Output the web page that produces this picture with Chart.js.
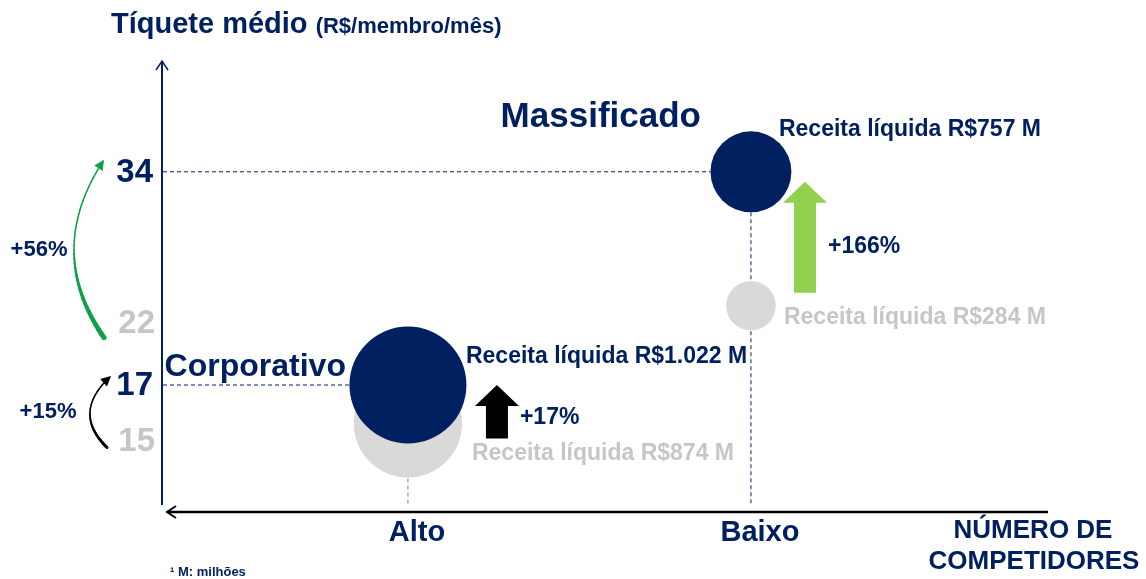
<!DOCTYPE html>
<html>
<head>
<meta charset="utf-8">
<script src="https://cdn.jsdelivr.net/npm/chart.js@4.4.1/dist/chart.umd.min.js"></script>
<style>
  body { margin: 0; background: #fff; }
  #wrap { width: 1146px; height: 579px; }
</style>
</head>
<body>
<div id="wrap"><canvas id="bubbleChart" width="1146" height="579"></canvas></div>
<script>
// data
const segments = ['Corporativo', 'Massificado'];
const competitors = ['Alto', 'Baixo'];
const ticketBefore = [15, 22];
const ticketAfter = [17, 34];
const revenueBefore = [874, 284];
const revenueAfter = [1022, 757];
const revenueBeforeLabel = ['Receita líquida R$874 M', 'Receita líquida R$284 M'];
const revenueAfterLabel = ['Receita líquida R$1.022 M', 'Receita líquida R$757 M'];
const ticketGrowth = ['+15%', '+56%'];
const revenueGrowth = ['+17%', '+166%'];

const NAVY = '#002060';
const GRAY_BUBBLE = '#d9d9d9';
const GRAY_TEXT = '#c6c6c6';
const FONT = '"Liberation Sans", Arial, sans-serif';
// bubble area scale per segment (slide isn't proportional between segments)
const bubbleScale = [1.83, 1.47];

function bubbles(tickets, revenues) {
  return segments.map((s, i) => ({ x: i + 1, y: tickets[i], r: bubbleScale[i] * Math.sqrt(revenues[i]) }));
}

function text(ctx, str, x, y, size, color, align) {
  ctx.font = `bold ${size}px ${FONT}`;
  ctx.fillStyle = color;
  ctx.textAlign = align || 'left';
  ctx.textBaseline = 'middle';
  ctx.fillText(str, x, y);
}

function blockArrow(ctx, cx, top, bottom, color) {
  const headW = 22, headH = 21, shaftW = 11;
  ctx.beginPath();
  ctx.moveTo(cx, top);
  ctx.lineTo(cx + headW, top + headH);
  ctx.lineTo(cx + shaftW, top + headH);
  ctx.lineTo(cx + shaftW, bottom);
  ctx.lineTo(cx - shaftW, bottom);
  ctx.lineTo(cx - shaftW, top + headH);
  ctx.lineTo(cx - headW, top + headH);
  ctx.closePath();
  ctx.fillStyle = color;
  ctx.fill();
}

function curvedArrow(ctx, x0, y0, cx, cy, x1, y1, color, wTail, wMid) {
  const pt = t => [
    (1 - t) * (1 - t) * x0 + 2 * (1 - t) * t * cx + t * t * x1,
    (1 - t) * (1 - t) * y0 + 2 * (1 - t) * t * cy + t * t * y1
  ];
  ctx.strokeStyle = color;
  ctx.lineCap = 'round';
  const n = 40;
  for (let k = 0; k < n - 2; k++) {
    const a = pt(k / n), b = pt((k + 1) / n);
    const t = k / n;
    ctx.lineWidth = wTail + (wMid - wTail) * Math.min(1, t * 2);
    ctx.beginPath();
    ctx.moveTo(a[0], a[1]);
    ctx.lineTo(b[0], b[1]);
    ctx.stroke();
  }
  // head
  const ang = Math.atan2(y1 - cy, x1 - cx);
  const len = 10, half = 5;
  const bx = x1 - len * Math.cos(ang), by = y1 - len * Math.sin(ang);
  ctx.beginPath();
  ctx.moveTo(x1, y1);
  ctx.lineTo(bx + half * Math.sin(ang), by - half * Math.cos(ang));
  ctx.lineTo(bx - half * Math.sin(ang), by + half * Math.cos(ang));
  ctx.closePath();
  ctx.fillStyle = color;
  ctx.fill();
}

const decorations = {
  id: 'decorations',
  beforeDatasetsDraw(chart) {
    const ctx = chart.ctx;
    const xs = chart.scales.x, ys = chart.scales.y;
    const area = chart.chartArea;
    const px = v => xs.getPixelForValue(v);
    const py = v => ys.getPixelForValue(v);
    ctx.save();

    // y axis with open arrow on top
    ctx.strokeStyle = NAVY;
    ctx.lineWidth = 2;
    ctx.beginPath();
    ctx.moveTo(area.left, area.bottom - 7);
    ctx.lineTo(area.left, area.top + 1);
    ctx.stroke();
    ctx.lineWidth = 1.5;
    ctx.beginPath();
    ctx.moveTo(area.left - 6, area.top + 10);
    ctx.lineTo(area.left, area.top + 1);
    ctx.lineTo(area.left + 6, area.top + 10);
    ctx.stroke();

    // x axis with open arrow pointing left
    ctx.strokeStyle = '#000';
    ctx.lineWidth = 2.5;
    ctx.beginPath();
    ctx.moveTo(area.right, area.bottom);
    ctx.lineTo(area.left + 5, area.bottom);
    ctx.stroke();
    ctx.lineWidth = 2;
    ctx.beginPath();
    ctx.moveTo(area.left + 14, area.bottom - 6);
    ctx.lineTo(area.left + 5, area.bottom);
    ctx.lineTo(area.left + 14, area.bottom + 6);
    ctx.stroke();

    // dashed guides
    ctx.setLineDash([4, 3]);
    ctx.lineWidth = 1;
    segments.forEach((s, i) => {
      const x = px(i + 1);
      const rA = bubbleScale[i] * Math.sqrt(revenueAfter[i]);
      ctx.strokeStyle = NAVY;
      ctx.beginPath();
      ctx.moveTo(area.left + 1, py(ticketAfter[i]));
      ctx.lineTo(x - rA, py(ticketAfter[i]));
      ctx.stroke();
      ctx.strokeStyle = i === 0 ? '#7083ad' : NAVY;
      ctx.beginPath();
      ctx.moveTo(x, py(ticketAfter[i]) + rA);
      ctx.lineTo(x, area.bottom - 6);
      ctx.stroke();
    });
    ctx.restore();
  },
  afterDatasetsDraw(chart) {
    const ctx = chart.ctx;
    const xs = chart.scales.x, ys = chart.scales.y;
    const area = chart.chartArea;
    const px = v => xs.getPixelForValue(v);
    const py = v => ys.getPixelForValue(v);
    ctx.save();

    // title
    ctx.font = `bold 29px ${FONT}`;
    ctx.fillStyle = NAVY;
    ctx.textAlign = 'left';
    ctx.textBaseline = 'alphabetic';
    ctx.fillText('Tíquete médio', 111, 33);
    const w = ctx.measureText('Tíquete médio ').width;
    ctx.font = `bold 22px ${FONT}`;
    ctx.fillText('(R$/membro/mês)', 111 + w, 33);

    // y tick labels: current value beside its guide, previous value under its bubble
    ctx.font = `bold 33px ${FONT}`;
    ctx.textAlign = 'right';
    segments.forEach((s, i) => {
      ctx.fillStyle = GRAY_TEXT;
      ctx.fillText(String(ticketBefore[i]), area.left - 7, py(ticketBefore[i]) + 27);
      ctx.fillStyle = NAVY;
      ctx.fillText(String(ticketAfter[i]), area.left - 9, py(ticketAfter[i]) + 10);
    });

    // x tick labels
    competitors.forEach((c, i) => text(ctx, c, px(i + 1) + 9, area.bottom + 21, 29, NAVY, 'center'));
    text(ctx, 'NÚMERO DE', 1033, 531, 26, NAVY, 'center');
    text(ctx, 'COMPETIDORES', 1034, 562, 26, NAVY, 'center');
    text(ctx, '¹ M: milhões', 170, 572, 13, NAVY, 'left');

    // ticket growth curved arrows
    const midM = (py(22) + py(34)) / 2, midC = (py(15) + py(17)) / 2;
    curvedArrow(ctx, 104, py(22) + 32, 44, midM + 12, 104, py(34) - 12, '#0ea04b', 5, 1.5);
    text(ctx, ticketGrowth[1], 39, midM + 11, 22, NAVY, 'center');
    curvedArrow(ctx, 107, py(15) + 24, 71, midC + 8, 111, py(17) - 9, '#000', 3, 1.5);
    text(ctx, ticketGrowth[0], 48, midC + 8, 22, NAVY, 'center');

    // Massificado
    const xm = px(2);
    text(ctx, segments[1], xm - 50, py(34) - 54, 35, NAVY, 'right');
    text(ctx, revenueAfterLabel[1], xm + 28, py(34) - 42, 23, NAVY, 'left');
    blockArrow(ctx, xm + 54, py(34) + 10, py(22) - 13, '#92d050');
    text(ctx, revenueGrowth[1], xm + 77, midM + 8, 23, NAVY, 'left');
    text(ctx, revenueBeforeLabel[1], xm + 33, py(22) + 12, 23, GRAY_TEXT, 'left');

    // Corporativo
    const xc = px(1);
    text(ctx, segments[0], xc - 62, py(17) - 18, 32, NAVY, 'right');
    text(ctx, revenueAfterLabel[0], xc + 58, py(17) - 28, 23, NAVY, 'left');
    blockArrow(ctx, xc + 89, py(17), py(15) + 15, '#000');
    text(ctx, revenueGrowth[0], xc + 112, py(17) + 33, 23, NAVY, 'left');
    text(ctx, revenueBeforeLabel[0], xc + 64, py(15) + 30, 23, GRAY_TEXT, 'left');

    ctx.restore();
  }
};

const ctx = document.getElementById('bubbleChart').getContext('2d');
const chart = new Chart(ctx, {
  type: 'bubble',
  data: {
    datasets: [
      { label: 'Atual', data: bubbles(ticketAfter, revenueAfter), backgroundColor: NAVY, borderWidth: 0, clip: false },
      { label: 'Anterior', data: bubbles(ticketBefore, revenueBefore), backgroundColor: GRAY_BUBBLE, borderWidth: 0, clip: false }
    ]
  },
  options: {
    responsive: false,
    animation: false,
    events: [],
    layout: { padding: { left: 162, right: 98, top: 60, bottom: 67 } },
    scales: {
      x: { type: 'linear', min: 0.283, max: 2.866, display: false },
      // slide spacing follows a log-like spread of the ticket values
      y: { type: 'logarithmic', min: 11.25, max: 48.9, display: false }
    },
    plugins: {
      legend: { display: false },
      tooltip: { enabled: false }
    }
  },
  plugins: [decorations]
});
</script>
</body>
</html>
